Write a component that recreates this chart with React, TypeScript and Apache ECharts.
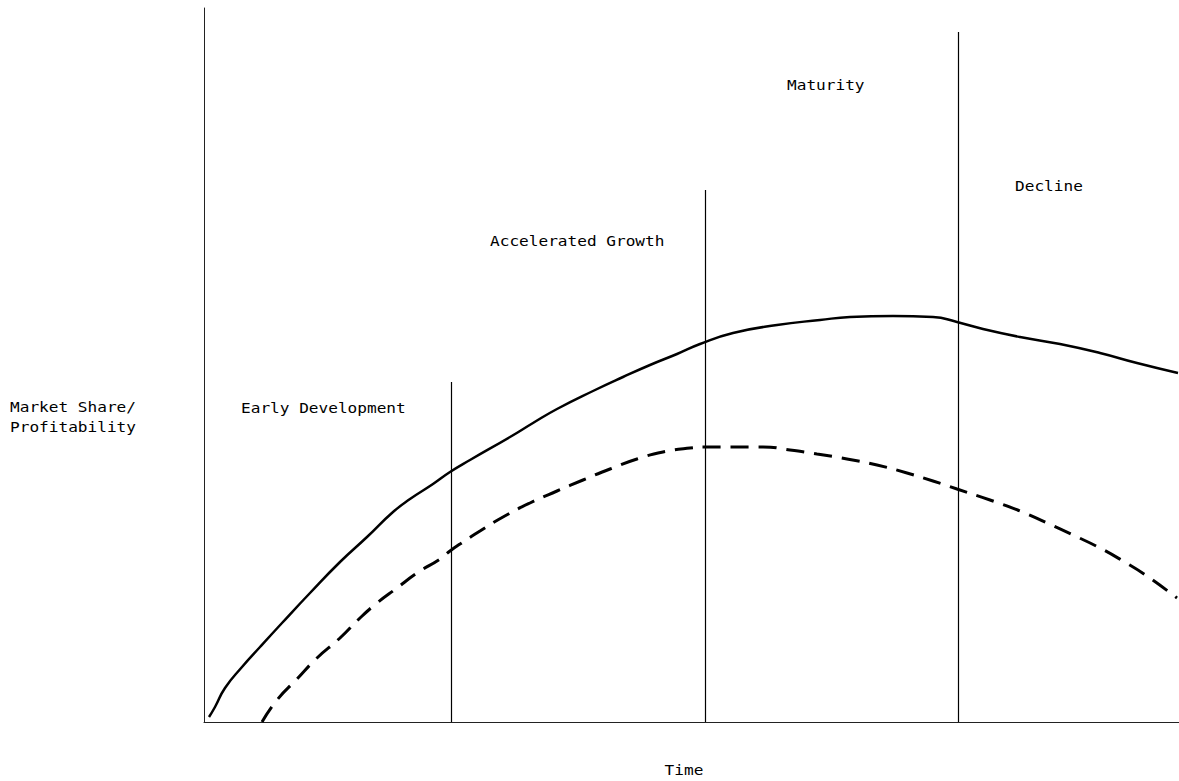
import React, { useEffect, useRef } from "react";
import * as echarts from "echarts";

// Time (x) and Market Share/Profitability (y), in chart units
const marketShareX = [5, 11, 21, 38, 56, 78, 106, 136, 163, 189, 206, 229, 246, 266, 306, 329, 353, 389, 419, 446, 473, 496, 529, 573, 616, 646, 689, 729, 753, 779, 816, 856, 896, 933, 974];
const marketShareY = [5, 15, 34, 55, 75, 99, 129, 160, 185, 210, 223, 238, 250, 262, 285, 299, 313, 331, 345, 357, 368, 378, 389, 397, 402, 405, 406, 405, 400, 393, 385, 378, 369, 359, 349];

const profitX = [58, 73, 93, 113, 136, 156, 173, 193, 213, 236, 246, 256, 276, 299, 326, 353, 379, 406, 433, 459, 486, 503, 529, 559, 586, 613, 643, 673, 703, 729, 753, 786, 816, 843, 869, 896, 919, 943, 973];
const profitY = [0, 22, 43, 64, 84, 104, 119, 134, 149, 163, 171, 178, 191, 205, 219, 231, 242, 253, 263, 270, 274, 275, 275, 275, 272, 268, 263, 257, 249, 241, 233, 222, 211, 199, 187, 174, 161, 146, 124];

const stageBoundaries = [247, 501, 754];
const boundaryHeights = [340, 532, 690];
const stageNames = ["Early Development", "Accelerated Growth", "Maturity", "Decline"];
const yAxisTitle = ["Market Share/", "Profitability"];
const xAxisTitle = "Time";

const X_MAX = 975;
const Y_MAX = 714;

export default function App() {
  const ref = useRef<HTMLDivElement>(null);
  useEffect(() => {
    if (!ref.current) return;
    const chart = echarts.init(ref.current, null, { renderer: "svg" });
    const font = "'DejaVu Sans Mono', monospace";
    const txt = (text: string, x: number, y: number, align: string = "left") => ({
      type: "text",
      x,
      y,
      scaleX: 1.15,
      style: {
        text,
        fill: "#000",
        font: `14px ${font}`,
        textAlign: align,
        textVerticalAlign: "middle",
      },
    });
    const stagePos = [
      [241, 408],
      [490, 241],
      [787, 85],
      [1015, 186],
    ];
    chart.setOption({
      animation: false,
      backgroundColor: "#fff",
      grid: { left: 204, right: 0, top: 8, bottom: 59 },
      xAxis: {
        type: "value",
        min: 0,
        max: X_MAX,
        axisLine: { show: true, lineStyle: { color: "#222", width: 1 } },
        axisTick: { show: false },
        axisLabel: { show: false },
        splitLine: { show: false },
      },
      yAxis: {
        type: "value",
        min: 0,
        max: Y_MAX,
        axisLine: { show: true, lineStyle: { color: "#222", width: 1 } },
        axisTick: { show: false },
        axisLabel: { show: false },
        splitLine: { show: false },
      },
      series: [
        {
          type: "line",
          name: "Market Share",
          data: marketShareX.map((x, i) => [x, marketShareY[i]]),
          showSymbol: false,
          smooth: 0.5,
          lineStyle: { color: "#000", width: 2.5 },
          markLine: {
            silent: true,
            symbol: "none",
            label: { show: false },
            lineStyle: { color: "#000", width: 1.2, type: "solid" },
            data: stageBoundaries.map((x, i) => [
              { coord: [x, 0] },
              { coord: [x, boundaryHeights[i]] },
            ]),
          },
        },
        {
          type: "line",
          name: "Profitability",
          data: profitX.map((x, i) => [x, profitY[i]]),
          showSymbol: false,
          smooth: 0.5,
          lineStyle: { color: "#000", width: 3, type: [18, 10] },
        },
      ],
      graphic: [
        ...stageNames.map((n, i) => txt(n, stagePos[i][0], stagePos[i][1])),
        txt(yAxisTitle[0], 10, 407),
        txt(yAxisTitle[1], 10, 427),
        txt(xAxisTitle, 684, 770, "center"),
      ],
    });
    return () => chart.dispose();
  }, []);
  return (
    <div
      ref={ref}
      style={{ position: "fixed", left: 0, top: 0, width: 1179, height: 781, background: "#fff" }}
    />
  );
}
